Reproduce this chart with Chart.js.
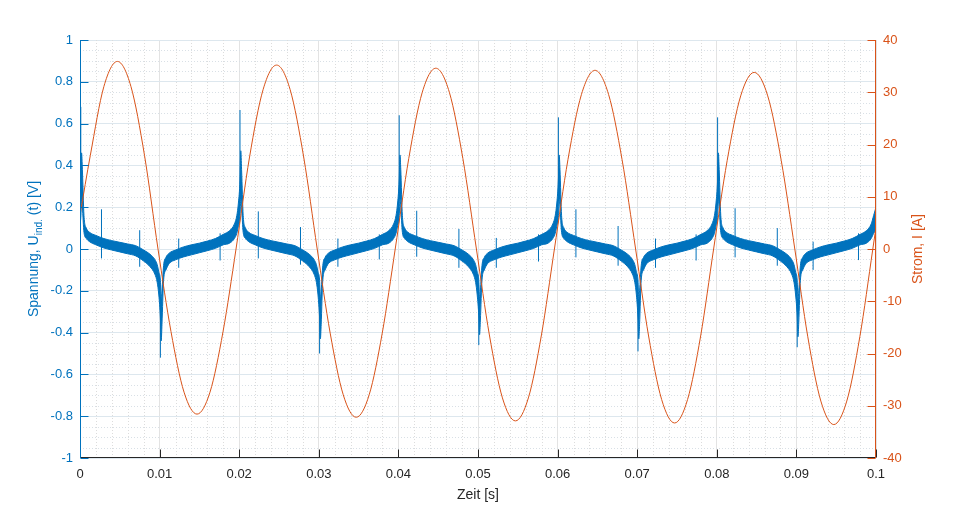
<!DOCTYPE html>
<html><head><meta charset="utf-8">
<script src="https://cdn.jsdelivr.net/npm/chart.js@4.4.1/dist/chart.umd.min.js"></script>
<style>html,body{margin:0;padding:0;background:#fff;}#wrap{width:956px;height:520px;position:relative;}</style>
</head><body><div id="wrap"><canvas id="c" width="956" height="520"></canvas></div>
<script>
// ---- Strom I(t) [A] ----
const zeitI = [0, 0.0013, 0.0030, 0.0047, 0.0064, 0.0081, 0.0098,
  0.01143, 0.01307, 0.0147, 0.01633, 0.01797, 0.0196,
  0.0213, 0.0230, 0.0247, 0.0264, 0.0281, 0.0298,
  0.03143, 0.03307, 0.0347, 0.03633, 0.03797, 0.0396,
  0.0413, 0.0430, 0.0447, 0.0464, 0.0481, 0.0498,
  0.05143, 0.05307, 0.0547, 0.05633, 0.05797, 0.0596,
  0.0613, 0.0630, 0.0647, 0.0664, 0.0681, 0.0698,
  0.07143, 0.07307, 0.0747, 0.07633, 0.07797, 0.0796,
  0.0813, 0.0830, 0.0847, 0.0864, 0.0881, 0.0898,
  0.09143, 0.09307, 0.0947, 0.09633, 0.09797, 0.0996, 0.1];
const stromI = [6.5, 17.95, 31.1, 35.9, 31.1, 17.95, 0,
  -15.8, -27.4, -31.6, -27.4, -15.8, 0,
  17.6, 30.5, 35.2, 30.5, 17.6, 0,
  -16.1, -27.9, -32.2, -27.9, -16.1, 0,
  17.3, 30.0, 34.6, 30.0, 17.3, 0,
  -16.45, -28.5, -32.9, -28.5, -16.45, 0,
  17.1, 29.6, 34.2, 29.6, 17.1, 0,
  -16.65, -28.8, -33.3, -28.8, -16.65, 0,
  16.9, 29.3, 33.8, 29.3, 16.9, 0,
  -16.8, -29.1, -33.6, -29.1, -16.8, 0, 4.2];

// ---- Spannung U_ind(t) [V]: Rauschband (obere / untere Huellkurve) ----
const zeitU = [0,
  0.0001,0.0002,0.0003,0.0005,0.0008,0.0012,0.002,0.003,0.004,0.005,0.006,0.007,0.008,0.0088,0.0094,0.0097,0.0099,
  0.0101,0.0102,0.0103,0.0105,0.0108,0.0112,0.012,0.013,0.014,0.015,0.016,0.017,0.018,0.0188,0.0194,0.0197,0.0199,
  0.0201,0.0202,0.0203,0.0205,0.0208,0.0212,0.022,0.023,0.024,0.025,0.026,0.027,0.028,0.0288,0.0294,0.0297,0.0299,
  0.0301,0.0302,0.0303,0.0305,0.0308,0.0312,0.032,0.033,0.034,0.035,0.036,0.037,0.038,0.0388,0.0394,0.0397,0.0399,
  0.0401,0.0402,0.0403,0.0405,0.0408,0.0412,0.042,0.043,0.044,0.045,0.046,0.047,0.048,0.0488,0.0494,0.0497,0.0499,
  0.0501,0.0502,0.0503,0.0505,0.0508,0.0512,0.052,0.053,0.054,0.055,0.056,0.057,0.058,0.0588,0.0594,0.0597,0.0599,
  0.0601,0.0602,0.0603,0.0605,0.0608,0.0612,0.062,0.063,0.064,0.065,0.066,0.067,0.068,0.0688,0.0694,0.0697,0.0699,
  0.0701,0.0702,0.0703,0.0705,0.0708,0.0712,0.072,0.073,0.074,0.075,0.076,0.077,0.078,0.0788,0.0794,0.0797,0.0799,
  0.0801,0.0802,0.0803,0.0805,0.0808,0.0812,0.082,0.083,0.084,0.085,0.086,0.087,0.088,0.0888,0.0894,0.0897,0.0899,
  0.0901,0.0902,0.0903,0.0905,0.0908,0.0912,0.092,0.093,0.094,0.095,0.096,0.097,0.098,0.0988,0.0994,0.0997,0.1];
const uOben = [0.28,
  0.33,0.46,0.38,0.16,0.10,0.08,0.065,0.05,0.04,0.032,0.024,0.016,-0.005,-0.025,-0.05,-0.075,-0.11,
  -0.15,-0.24,-0.20,-0.08,-0.04,-0.02,-0.005,0.01,0.02,0.028,0.038,0.05,0.07,0.088,0.12,0.16,0.22,
  0.33,0.47,0.38,0.16,0.10,0.08,0.065,0.05,0.04,0.032,0.024,0.016,-0.005,-0.025,-0.05,-0.075,-0.11,
  -0.15,-0.24,-0.20,-0.08,-0.04,-0.02,-0.005,0.01,0.02,0.028,0.038,0.05,0.07,0.088,0.12,0.16,0.22,
  0.33,0.45,0.38,0.16,0.10,0.08,0.065,0.05,0.04,0.032,0.024,0.016,-0.005,-0.025,-0.05,-0.075,-0.11,
  -0.15,-0.24,-0.20,-0.08,-0.04,-0.02,-0.005,0.01,0.02,0.028,0.038,0.05,0.07,0.088,0.12,0.16,0.22,
  0.33,0.45,0.38,0.16,0.10,0.08,0.065,0.05,0.04,0.032,0.024,0.016,-0.005,-0.025,-0.05,-0.075,-0.11,
  -0.15,-0.24,-0.20,-0.08,-0.04,-0.02,-0.005,0.01,0.02,0.028,0.038,0.05,0.07,0.088,0.12,0.16,0.22,
  0.33,0.46,0.38,0.16,0.10,0.08,0.065,0.05,0.04,0.032,0.024,0.016,-0.005,-0.025,-0.05,-0.075,-0.11,
  -0.15,-0.24,-0.20,-0.08,-0.04,-0.02,-0.005,0.01,0.02,0.028,0.038,0.05,0.07,0.088,0.12,0.16,0.20];
const uUnten = [0.12,
  0.15,0.24,0.20,0.08,0.05,0.035,0.02,0.005,-0.005,-0.014,-0.023,-0.033,-0.058,-0.085,-0.12,-0.16,-0.22,
  -0.33,-0.44,-0.36,-0.15,-0.10,-0.07,-0.052,-0.038,-0.028,-0.018,-0.008,0.003,0.02,0.028,0.05,0.075,0.11,
  0.15,0.24,0.20,0.08,0.05,0.035,0.02,0.005,-0.005,-0.014,-0.023,-0.033,-0.058,-0.085,-0.12,-0.16,-0.22,
  -0.33,-0.43,-0.36,-0.15,-0.10,-0.07,-0.052,-0.038,-0.028,-0.018,-0.008,0.003,0.02,0.028,0.05,0.075,0.11,
  0.15,0.24,0.20,0.08,0.05,0.035,0.02,0.005,-0.005,-0.014,-0.023,-0.033,-0.058,-0.085,-0.12,-0.16,-0.22,
  -0.32,-0.41,-0.34,-0.15,-0.10,-0.07,-0.052,-0.038,-0.028,-0.018,-0.008,0.003,0.02,0.028,0.05,0.075,0.11,
  0.15,0.24,0.20,0.08,0.05,0.035,0.02,0.005,-0.005,-0.014,-0.023,-0.033,-0.058,-0.085,-0.12,-0.16,-0.22,
  -0.33,-0.43,-0.36,-0.15,-0.10,-0.07,-0.052,-0.038,-0.028,-0.018,-0.008,0.003,0.02,0.028,0.05,0.075,0.11,
  0.15,0.24,0.20,0.08,0.05,0.035,0.02,0.005,-0.005,-0.014,-0.023,-0.033,-0.058,-0.085,-0.12,-0.16,-0.22,
  -0.32,-0.42,-0.35,-0.15,-0.10,-0.07,-0.052,-0.038,-0.028,-0.018,-0.008,0.003,0.02,0.028,0.05,0.075,0.09];

// ---- Spannungsspitzen (Zeitpunkt, oberes und unteres Ende) ----
const spitzeZeit = [0.0001, 0.0101, 0.0201, 0.0301, 0.0401, 0.0501, 0.0601, 0.0701, 0.0801, 0.0901,
  0.0027, 0.0075, 0.0124, 0.0176, 0.0224, 0.0277, 0.0324, 0.0376, 0.0423, 0.0476,
  0.0523, 0.0576, 0.0623, 0.0676, 0.0723, 0.0774, 0.0823, 0.0876, 0.0921, 0.0978];
const spitzeOben = [0.68, -0.25, 0.665, -0.25, 0.64, -0.25, 0.63, -0.25, 0.63, -0.25,
  0.19, 0.09, 0.05, 0.075, 0.18, 0.105, 0.05, 0.07, 0.183, 0.096,
  0.053, 0.07, 0.19, 0.11, 0.05, 0.07, 0.195, 0.10, 0.035, 0.075];
const spitzeUnten = [0.25, -0.52, 0.25, -0.50, 0.25, -0.46, 0.25, -0.49, 0.25, -0.47,
  -0.045, -0.085, -0.09, -0.055, -0.045, -0.075, -0.085, -0.05, -0.037, -0.09,
  -0.09, -0.06, -0.04, -0.08, -0.09, -0.055, -0.04, -0.08, -0.10, -0.053];

// ---- Achsenbeschriftungen ----
const xTickWerte = [0, 0.01, 0.02, 0.03, 0.04, 0.05, 0.06, 0.07, 0.08, 0.09, 0.1];
const xTickTexte = ['0', '0.01', '0.02', '0.03', '0.04', '0.05', '0.06', '0.07', '0.08', '0.09', '0.1'];
const yLinksWerte = [-1, -0.8, -0.6, -0.4, -0.2, 0, 0.2, 0.4, 0.6, 0.8, 1];
const yLinksTexte = ['-1', '-0.8', '-0.6', '-0.4', '-0.2', '0', '0.2', '0.4', '0.6', '0.8', '1'];
const yRechtsWerte = [-40, -30, -20, -10, 0, 10, 20, 30, 40];
const yRechtsTexte = ['-40', '-30', '-20', '-10', '0', '10', '20', '30', '40'];
const xTitel = 'Zeit [s]';
const yLinksTitel = ['Spannung, U', 'ind.', ' (t) [V]'];
const yRechtsTitel = 'Strom, I [A]';

const BLAU = '#0072BD', ORANGE = '#D95319', DUNKEL = '#262626';
const FONT = "'Liberation Sans', Arial, Helvetica, sans-serif";
const TICKFONT = 13, TITELFONT = 14;

const pts = (xs, ys) => xs.map((x, i) => ({x: x, y: ys[i]}));
const spitzenPunkte = [];
spitzeZeit.forEach((t, i) => {
  spitzenPunkte.push({x: t, y: spitzeUnten[i]}, {x: t, y: spitzeOben[i]}, {x: t, y: null});
});

function linie(ctx, x1, y1, x2, y2) { ctx.beginPath(); ctx.moveTo(x1, y1); ctx.lineTo(x2, y2); ctx.stroke(); }
const al = v => Math.round(v) + 0.5;

const matlabPlugin = {
  id: 'matlabAchsen',
  beforeDatasetsDraw(chart) {
    const ctx = chart.ctx, a = chart.chartArea, x = chart.scales.x, y = chart.scales.y;
    ctx.save();
    ctx.lineWidth = 1;
    ctx.setLineDash([1, 2]);
    ctx.strokeStyle = '#dcdcdc';
    for (let i = 1; i < 50; i++) {
      if (i % 5 === 0) continue;
      const px = al(x.getPixelForValue(i * 0.002));
      linie(ctx, px, a.top, px, a.bottom);
    }
    ctx.strokeStyle = '#d9e0e6';
    for (let j = -19; j < 20; j++) {
      if (j % 4 === 0) continue;
      const py = al(y.getPixelForValue(j * 0.05));
      linie(ctx, a.left, py, a.right, py);
    }
    ctx.restore();
  },
  afterDatasetsDraw(chart) {
    const ctx = chart.ctx, a = chart.chartArea, s = chart.scales;
    const TL = 8;
    ctx.save();
    ctx.lineWidth = 1;
    ctx.setLineDash([]);
    ctx.strokeStyle = DUNKEL;
    const yb = al(a.bottom) - 1;
    linie(ctx, a.left, yb, a.right, yb);
    s.x.ticks.forEach(t => { const px = al(s.x.getPixelForValue(t.value)); linie(ctx, px, yb, px, yb - TL); });
    ctx.strokeStyle = BLAU;
    const xl = al(a.left);
    linie(ctx, xl, a.top, xl, a.bottom);
    s.y.ticks.forEach(t => { const py = al(s.y.getPixelForValue(t.value)); linie(ctx, xl, py, xl + TL, py); });
    ctx.strokeStyle = ORANGE;
    const xr = al(a.right) - 1;
    linie(ctx, xr, a.top, xr, a.bottom);
    s.y2.ticks.forEach(t => { const py = al(s.y2.getPixelForValue(t.value)); linie(ctx, xr, py, xr - TL, py); });
    ctx.restore();
  },
  afterDraw(chart) {
    const ctx = chart.ctx, a = chart.chartArea;
    ctx.save();
    ctx.fillStyle = DUNKEL;
    ctx.font = TITELFONT + 'px ' + FONT;
    ctx.textAlign = 'center';
    ctx.textBaseline = 'alphabetic';
    ctx.fillText(xTitel, (a.left + a.right) / 2, 499);
    const big = TITELFONT + 'px ' + FONT, small = (TITELFONT * 0.72) + 'px ' + FONT;
    ctx.font = big; const w1 = ctx.measureText(yLinksTitel[0]).width;
    ctx.font = small; const w2 = ctx.measureText(yLinksTitel[1]).width;
    ctx.font = big; const w3 = ctx.measureText(yLinksTitel[2]).width;
    const W = w1 + w2 + w3;
    ctx.save();
    ctx.translate(38, (a.top + a.bottom) / 2);
    ctx.rotate(-Math.PI / 2);
    ctx.fillStyle = BLAU;
    ctx.textAlign = 'left';
    ctx.font = big; ctx.fillText(yLinksTitel[0], -W / 2, 0);
    ctx.font = small; ctx.fillText(yLinksTitel[1], -W / 2 + w1, 4);
    ctx.font = big; ctx.fillText(yLinksTitel[2], -W / 2 + w1 + w2, 0);
    ctx.restore();
    ctx.save();
    ctx.translate(922, (a.top + a.bottom) / 2);
    ctx.rotate(-Math.PI / 2);
    ctx.fillStyle = ORANGE;
    ctx.textAlign = 'center';
    ctx.font = big;
    ctx.fillText(yRechtsTitel, 0, 0);
    ctx.restore();
    ctx.restore();
  }
};

Chart.defaults.font.family = FONT;
new Chart(document.getElementById('c'), {
  type: 'line',
  data: {
    datasets: [
      {label: 'U oben', data: pts(zeitU, uOben), yAxisID: 'y', borderColor: BLAU, borderWidth: 1,
        pointRadius: 0, fill: false, cubicInterpolationMode: 'monotone', order: 3},
      {label: 'U unten', data: pts(zeitU, uUnten), yAxisID: 'y', borderColor: BLAU, borderWidth: 1,
        pointRadius: 0, fill: '-1', backgroundColor: BLAU, cubicInterpolationMode: 'monotone', order: 2},
      {label: 'Spitzen', data: spitzenPunkte, yAxisID: 'y', borderColor: BLAU, borderWidth: 1,
        pointRadius: 0, spanGaps: false, tension: 0, fill: false, order: 1},
      {label: 'Strom', data: pts(zeitI, stromI), yAxisID: 'y2', borderColor: ORANGE, borderWidth: 1,
        pointRadius: 0, fill: false, cubicInterpolationMode: 'monotone', order: 0}
    ]
  },
  options: {
    responsive: false, animation: false, devicePixelRatio: 1,
    layout: {padding: {left: 0, right: 0, top: 40, bottom: 0}},
    plugins: {legend: {display: false}, tooltip: {enabled: false}},
    scales: {
      x: {type: 'linear', min: 0, max: 0.1,
        afterBuildTicks: s => { s.ticks = xTickWerte.map(v => ({value: v})); },
        afterFit: s => { s.height = 62; },
        ticks: {callback: (v, i) => xTickTexte[i], color: DUNKEL, font: {size: TICKFONT}, padding: 9, maxRotation: 0, autoSkip: false},
        grid: {color: '#e3e3e3', drawTicks: false}, border: {display: false}},
      y: {type: 'linear', position: 'left', min: -1, max: 1,
        afterBuildTicks: s => { s.ticks = yLinksWerte.map(v => ({value: v})); },
        afterFit: s => { s.width = 80; },
        ticks: {callback: (v, i) => yLinksTexte[i], color: BLAU, font: {size: TICKFONT}, padding: 7, autoSkip: false},
        grid: {color: '#dde7ee', drawTicks: false}, border: {display: false}},
      y2: {type: 'linear', position: 'right', min: -40, max: 40,
        afterBuildTicks: s => { s.ticks = yRechtsWerte.map(v => ({value: v})); },
        afterFit: s => { s.width = 80; },
        ticks: {callback: (v, i) => yRechtsTexte[i], color: ORANGE, font: {size: TICKFONT}, padding: 7, autoSkip: false},
        grid: {drawOnChartArea: false, drawTicks: false}, border: {display: false}}
    }
  },
  plugins: [matlabPlugin]
});
</script></body></html>
